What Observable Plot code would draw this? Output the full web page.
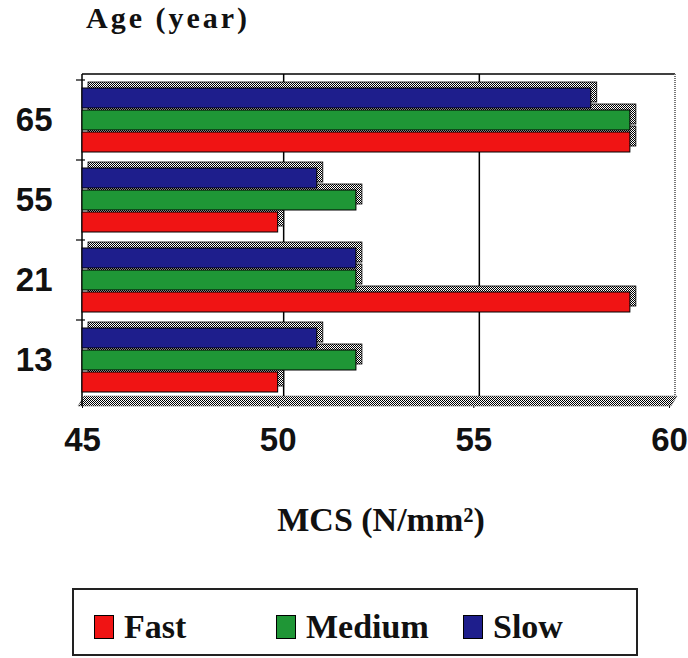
<!DOCTYPE html>
<html><head><meta charset="utf-8">
<script src="https://cdn.jsdelivr.net/npm/d3@7"></script>
<script src="https://cdn.jsdelivr.net/npm/@observablehq/plot@0.6"></script>
<style>
body{margin:0;background:#fff;}
#wrap{position:relative;width:688px;height:658px;overflow:hidden;}
#title{position:absolute;left:86px;top:3px;font:bold 30px "Liberation Serif",serif;letter-spacing:3px;line-height:30px;color:#111;}
#chart{position:absolute;left:0;top:0;}
#legend{position:absolute;left:72px;top:588px;width:566px;height:68px;box-sizing:border-box;border:2px solid #222;background:#fff;}
.item{position:absolute;top:22px;display:flex;align-items:center;font:bold 34px "Liberation Serif",serif;color:#111;line-height:30px;}
.sw{width:20px;height:24px;border:1.5px solid #000;margin-right:10px;box-sizing:border-box;}
</style></head>
<body>
<div id="wrap">
  <div id="chart"></div>
  <div id="title">Age (year)</div>
  <div id="legend"></div>
</div>
<script>
const ages = ["65", "55", "21", "13"];
const speeds = ["Fast", "Medium", "Slow"];
const fast = [59, 50, 59, 50];
const medium = [59, 52, 52, 52];
const slow = [58, 51, 52, 51];
const xTicks = [45, 50, 55, 60];
const colors = ["#f01414", "#1f9636", "#1e1e8c"];
const xLabel = "MCS (N/mm²)";

const rows = ages.flatMap((age, i) => [
  {age, speed: "Fast", value: fast[i]},
  {age, speed: "Medium", value: medium[i]},
  {age, speed: "Slow", value: slow[i]}
]);

const D = 6;
const insets = {Slow: [8, 52], Medium: [30, 30], Fast: [52, 8]};
const base = xTicks[0];

function bars(speed, shadow) {
  return Plot.barX(rows.filter(d => d.speed === speed), {
    x1: d => base, x2: "value", y: "age",
    insetTop: insets[speed][0], insetBottom: insets[speed][1],
    fill: shadow ? "url(#chk)" : "speed",
    stroke: "#000", strokeWidth: shadow ? 0.8 : 1,
    dx: shadow ? D : 0, dy: shadow ? -D : 0
  });
}

function defs() {
  const g = d3.create("svg:g");
  const p = g.append("defs").append("pattern").attr("id", "chk")
    .attr("width", 2).attr("height", 2).attr("patternUnits", "userSpaceOnUse");
  p.append("rect").attr("width", 2).attr("height", 2).attr("fill", "#fff");
  p.append("rect").attr("width", 1).attr("height", 1).attr("fill", "#000");
  p.append("rect").attr("x", 1).attr("y", 1).attr("width", 1).attr("height", 1).attr("fill", "#000");
  return g.node();
}

function walls(index, scales, values, dims) {
  const x = scales.x;
  const top = dims.marginTop, bottom = dims.height - dims.marginBottom;
  const g = d3.create("svg:g");
  const xl = x(xTicks[0]), xr = x(xTicks[xTicks.length - 1]);
  g.append("polygon")
    .attr("points", [[xl - 4, bottom + 6], [xr + 2, bottom + 6], [xr + D + 2, bottom - 4], [xl + 2, bottom - 4]].map(p => p.join(",")).join(" "))
    .attr("fill", "url(#chk)").attr("stroke", "#666").attr("stroke-width", 0.5);
  g.append("line").attr("x1", xl).attr("x2", xr + D).attr("y1", top - D).attr("y2", top - D)
    .attr("stroke", "#000").attr("stroke-width", 1.5);
  g.append("line").attr("x1", xr + D).attr("x2", xr + D).attr("y1", top - D).attr("y2", bottom - 4)
    .attr("stroke", "#777").attr("stroke-width", 2).attr("stroke-dasharray", "1,1");
  for (const t of xTicks.slice(1, -1)) {
    g.append("line").attr("x1", x(t) + D).attr("x2", x(t) + D).attr("y1", top - D).attr("y2", bottom - 4)
      .attr("stroke", "#000").attr("stroke-width", 1.5);
  }
  g.append("line").attr("x1", xl).attr("x2", xl).attr("y1", top - D).attr("y2", bottom + 6)
    .attr("stroke", "#000").attr("stroke-width", 1.5);
  const y = scales.y;
  for (const a of ages) {
    g.append("line").attr("x1", xl - 6).attr("x2", xl + 3).attr("y1", y(a)).attr("y2", y(a))
      .attr("stroke", "#000").attr("stroke-width", 1.2);
  }
  return g.node();
}

const chart = Plot.plot({
  width: 688, height: 560,
  marginLeft: 82, marginRight: 19, marginTop: 80, marginBottom: 160,
  style: {fontFamily: "'Liberation Sans', Arial, sans-serif", fontSize: "33px", fontWeight: "bold", color: "#111", background: "transparent"},
  x: {domain: [xTicks[0], xTicks[xTicks.length - 1]], ticks: xTicks, tickFormat: d => String(d), tickSize: 8, tickPadding: 19, label: null},
  y: {domain: ages, padding: 0, tickSize: 0, tickPadding: 30, label: null},
  color: {domain: speeds, range: colors},
  marks: [
    defs,
    walls,
    bars("Fast", true), bars("Medium", true), bars("Slow", true),
    bars("Fast", false), bars("Medium", false), bars("Slow", false),
    Plot.text([xLabel], {text: d => d, frameAnchor: "bottom", lineAnchor: "bottom", dy: 130, dx: 5,
      fontSize: 34, fontWeight: "bold", fontFamily: "'Liberation Serif', serif", fill: "#111"})
  ]
});
document.getElementById("chart").appendChild(chart);

const legend = document.getElementById("legend");
const lefts = [20, 202, 389];
speeds.forEach((s, i) => {
  const it = document.createElement("div");
  it.className = "item";
  it.style.left = lefts[i] + "px";
  const sw = document.createElement("div");
  sw.className = "sw";
  sw.style.background = colors[i];
  it.appendChild(sw);
  it.appendChild(document.createTextNode(s));
  legend.appendChild(it);
});
</script>
</body></html>
